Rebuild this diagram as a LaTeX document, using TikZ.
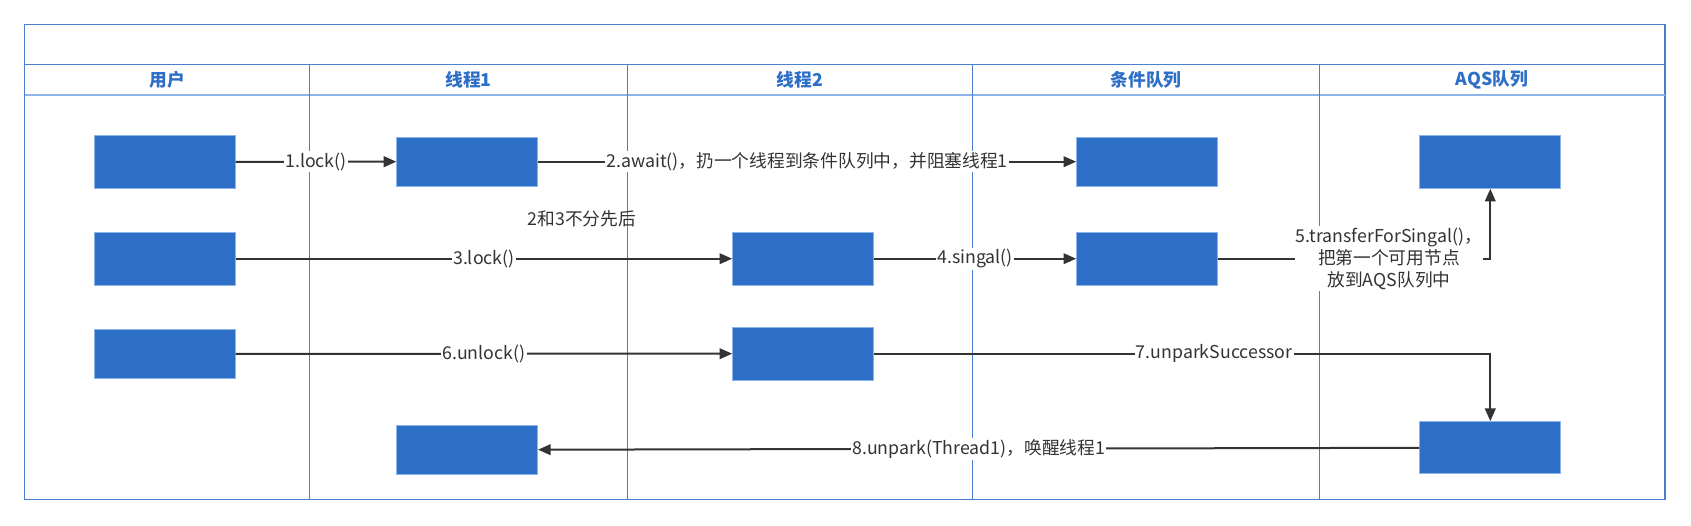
\documentclass[tikz,border=0pt]{standalone}
\usepackage{fontspec}
\setmainfont{Noto Sans CJK SC}
\usetikzlibrary{arrows.meta}
\definecolor{frameblue}{HTML}{4A7FD0}
\definecolor{hdrline}{HTML}{8EB3E8}
\definecolor{boxfill}{HTML}{2D6FC7}
\definecolor{boxedge}{HTML}{8AB4EA}
\definecolor{ink}{HTML}{333333}
\definecolor{hdrtext}{HTML}{2D6FC7}
\begin{document}
\begin{tikzpicture}[x=0.75pt,y=-0.75pt,
  box/.style={fill=boxfill,draw=boxedge,line width=0.75pt,minimum width=105.5pt,inner sep=0pt},
  conn/.style={draw=ink,line width=1.5pt,-{Triangle[length=9.5pt,width=8pt]}},
  lbl/.style={fill=white,text=ink,inner sep=1pt,font=\fontsize{13.3pt}{16.5pt}\selectfont,align=center},
  freetext/.style={text=ink,inner sep=1pt,font=\fontsize{13.3pt}{16.5pt}\selectfont},
  hdr/.style={text=hdrtext,font=\bfseries\fontsize{13.3pt}{16pt}\selectfont},
  lane/.style={draw=frameblue,line width=1.2pt},
  divider/.style={draw=frameblue,line width=0.8pt}]
\useasboundingbox[fill=white] (0,0) rectangle (1691,525);
% frame
\draw[lane] (24.5,24.3) rectangle (1665,499.3);
\draw[lane] (24.5,64.5) -- (1665,64.5);
\draw[draw=hdrline,line width=1.6pt] (24.5,95) -- (1665,95);
\foreach \xx in {309.4,627.7,972.7,1319.3}{
  \draw[divider] (\xx,64.5) -- (\xx,499.3);
}
% headers
\node[hdr] (h1) at (167,80) {用户};
\node[hdr] (h2) at (468.5,80) {线程1};
\node[hdr] (h3) at (800,80) {线程2};
\node[hdr] (h4) at (1146,80) {条件队列};
\node[hdr] (h5) at (1492,80) {AQS队列};
% boxes
\node[box,minimum height=39.75pt] (u1) at (164.8,161.8) {};
\node[box,minimum height=39.5pt] (u2) at (164.8,258.7) {};
\node[box,minimum height=36.75pt] (u3) at (164.8,353.8) {};
\node[box,minimum height=36.5pt] (t1a) at (467.2,161.7) {};
\node[box,minimum height=36.5pt] (t1b) at (467.2,449.7) {};
\node[box,minimum height=39.5pt] (t2a) at (803,258.7) {};
\node[box,minimum height=39.5pt] (t2b) at (803,353.7) {};
\node[box,minimum height=36.5pt] (c1) at (1147,161.7) {};
\node[box,minimum height=39.5pt] (c2) at (1147,258.7) {};
\node[box,minimum height=39.75pt] (a1) at (1490.3,161.8) {};
\node[box,minimum height=39.25pt] (a2) at (1490.3,447.8) {};
% connectors
\draw[conn] (u1.east) -- node[lbl]{1.lock()} (t1a.west);
\draw[conn] (t1a.east) -- node[lbl]{2.await()，扔一个线程到条件队列中，并阻塞线程1} (c1.west);
\draw[conn] (u2.east) -- node[lbl]{3.lock()} (t2a.west);
\draw[conn] (t2a.east) -- node[lbl]{4.singal()} (c2.west);
\draw[conn] (c2.east) -- node[lbl,pos=0.628]{5.transferForSingal()，\\把第一个可用节点\\放到AQS队列中} (c2.east -| a1.south) -- (a1.south);
\draw[conn] (u3.east) -- node[lbl]{6.unlock()} (t2b.west);
\draw[conn] (t2b.east) -- node[lbl,pos=0.552]{7.unparkSuccessor} (t2b.east -| a2.north) -- (a2.north);
\draw[conn] (a2.west) -- node[lbl]{8.unpark(Thread1)，唤醒线程1} (t1b.east);
% free text
\node[freetext] (note) at (582,219) {2和3不分先后};
\end{tikzpicture}
\end{document}
